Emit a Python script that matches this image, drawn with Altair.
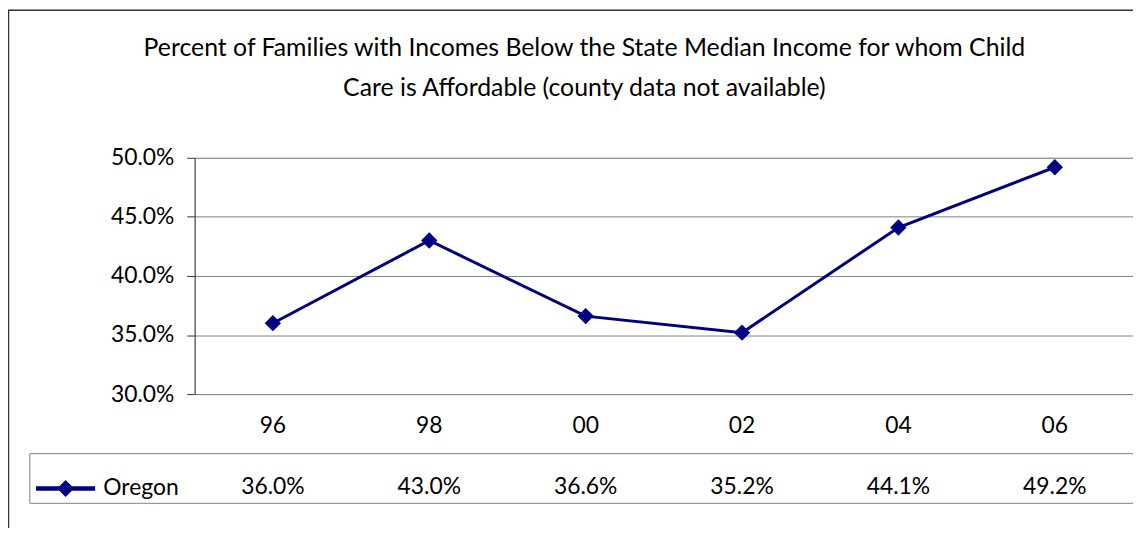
import altair as alt
import pandas as pd

# ---- data ----
years = ["96", "98", "00", "02", "04", "06"]
oregon = [0.360, 0.430, 0.366, 0.352, 0.441, 0.492]
series_name = "Oregon"
y_ticks = [0.30, 0.35, 0.40, 0.45, 0.50]
title_lines = [
    "Percent of Families with Incomes Below the State Median Income for whom Child",
    "Care is Affordable (county data not available)",
]

df = pd.DataFrame({"year": years, "value": oregon, "series": [series_name] * len(years)})
one = pd.DataFrame({"k": [0]})

# ---- layout / style ----
W, H = 945, 238          # plot area
ROW1, ROW2 = 60, 50      # data-table rows
LEG_W = 166              # legend cell width
FONT = "Lato"
FS = 23
TFS = 25
NAVY = "#000080"
GRID = "#808080"
DARK = "#333333"

legend_path = "M-1,-0.052H1V0.052H-1Z M0,-0.26L0.26,0L0,0.26L-0.26,0Z"

x_axis = alt.X(
    "year:N", sort=years, bandPosition=0.5,
    scale=alt.Scale(type="band", paddingInner=0, paddingOuter=0),
    axis=alt.Axis(title=None, labels=False, tickBand="extent", tickSize=ROW1 + ROW2,
                  tickColor=GRID, tickWidth=1, domainColor="#000000", domainWidth=1.5,
                  grid=False),
)
x_plain = alt.X("year:N", sort=years, bandPosition=0.5, axis=None)

y_axis = alt.Y(
    "value:Q",
    scale=alt.Scale(domain=[0.30, 0.50], nice=False, zero=False),
    axis=alt.Axis(title=None, values=y_ticks, format=".1%", grid=True, gridColor=GRID,
                  gridWidth=1, domainColor=DARK, tickColor=DARK, tickSize=8,
                  labelPadding=13, labelFont=FONT, labelFontSize=FS, labelColor="#000000"),
)

color = alt.Color(
    "series:N", scale=alt.Scale(range=[NAVY]),
    legend=alt.Legend(title=None, orient="none", legendX=-160, legendY=303,
                      symbolType=legend_path, symbolSize=58 * 58, labelOffset=8,
                      labelFont=FONT, labelFontSize=FS, labelColor="#000000", padding=0),
)

border = alt.Chart(one).mark_rect(fill=None, stroke=DARK, strokeWidth=1.5).encode(
    x=alt.value(-187.5), x2=alt.value(W + 60), y=alt.value(-148.5), y2=alt.value(H + 400)
)

points = alt.Chart(df).mark_point(shape="diamond", filled=True, size=270, opacity=1).encode(
    x=x_axis, y=y_axis, color=color
)
line = alt.Chart(df).mark_line(strokeWidth=3).encode(x=x_plain, y=y_axis, color=color)

cat_text = alt.Chart(df).mark_text(font=FONT, fontSize=FS, color="#000000", baseline="middle").encode(
    x=x_plain, y=alt.value(H + 32), text="year:N"
)
val_text = alt.Chart(df).mark_text(font=FONT, fontSize=FS, color="#000000", baseline="middle").encode(
    x=x_plain, y=alt.value(H + ROW1 + 34), text=alt.Text("value:Q", format=".1%")
)

h1 = alt.Chart(one).mark_rule(color=GRID, strokeWidth=1).encode(
    x=alt.value(-LEG_W), x2=alt.value(W), y=alt.value(H + ROW1)
)
h2 = alt.Chart(one).mark_rule(color=GRID, strokeWidth=1).encode(
    x=alt.value(-LEG_W), x2=alt.value(W), y=alt.value(H + ROW1 + ROW2)
)
v1 = alt.Chart(one).mark_rule(color=GRID, strokeWidth=1).encode(
    x=alt.value(-LEG_W), y=alt.value(H + ROW1), y2=alt.value(H + ROW1 + ROW2)
)

chart = alt.layer(border, h1, h2, v1, points, line, cat_text, val_text).properties(
    width=W, height=H,
    padding={"left": 188, "top": 149, "right": 0, "bottom": 133},
    autosize=alt.AutoSizeParams(type="none"),
    title=alt.TitleParams(text=title_lines, font=FONT, fontSize=TFS, fontWeight="normal",
                          color="#000000", anchor="middle", frame="group", dx=-80,
                          lineHeight=40, offset=-92),
).configure_view(stroke="#c8c8c8")

chart.save("out.html", embed_options={"renderer": "svg", "actions": False})
